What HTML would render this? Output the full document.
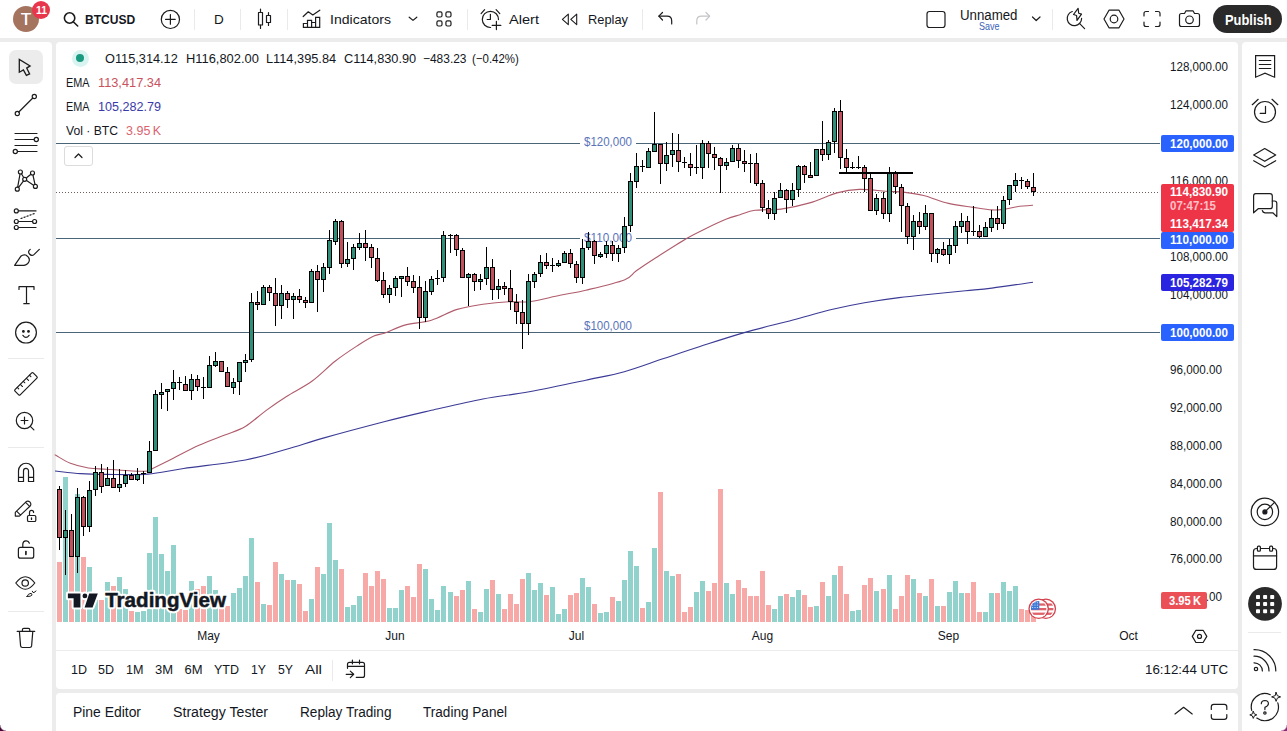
<!DOCTYPE html>
<html><head><meta charset="utf-8"><title>BTCUSD</title>
<style>
html,body{margin:0;padding:0;}
body{width:1287px;height:731px;overflow:hidden;background:#ececec;position:relative;font-family:"Liberation Sans",sans-serif;color:#131722;}
.p{position:absolute;background:#fff;}
.t{position:absolute;white-space:nowrap;}
svg{position:absolute;left:0;top:0;overflow:visible;}
.ic{fill:none;stroke:#1c1c1e;stroke-width:1.2;stroke-linecap:round;stroke-linejoin:round;}
.sep{position:absolute;background:#eaeaea;}
</style></head><body>

<div class="p" style="left:0;top:0;width:1287px;height:38px;"></div>
<div class="p" style="left:0;top:42px;width:52px;height:689px;border-radius:0 4px 0 0;"></div>
<div class="p" style="left:56px;top:42px;width:1182px;height:647px;border-radius:4px;"></div>
<div class="p" style="left:56px;top:693px;width:1182px;height:38px;border-radius:4px 4px 0 0;"></div>
<div class="p" style="left:1242px;top:42px;width:45px;height:689px;border-radius:4px 0 0 0;"></div>
<svg id="chart" width="1287" height="731" viewBox="0 0 1287 731">
<g shape-rendering="crispEdges">
<rect x="57.0" y="562.0" width="5" height="60.0" fill="#f7a9a7"/>
<rect x="63.0" y="477.0" width="5" height="145.0" fill="#92d2cc"/>
<rect x="69.0" y="557.0" width="5" height="65.0" fill="#f7a9a7"/>
<rect x="75.0" y="494.0" width="5" height="128.0" fill="#92d2cc"/>
<rect x="81.0" y="557.0" width="5" height="65.0" fill="#f7a9a7"/>
<rect x="87.0" y="567.0" width="5" height="55.0" fill="#92d2cc"/>
<rect x="93.0" y="600.0" width="5" height="22.0" fill="#92d2cc"/>
<rect x="99.0" y="600.0" width="5" height="22.0" fill="#f7a9a7"/>
<rect x="105.0" y="582.0" width="5" height="40.0" fill="#92d2cc"/>
<rect x="111.0" y="586.3" width="5" height="35.7" fill="#f7a9a7"/>
<rect x="117.0" y="577.2" width="5" height="44.8" fill="#92d2cc"/>
<rect x="123.0" y="589.2" width="5" height="32.8" fill="#92d2cc"/>
<rect x="129.0" y="611.2" width="5" height="10.8" fill="#f7a9a7"/>
<rect x="135.0" y="612.2" width="5" height="9.8" fill="#92d2cc"/>
<rect x="141.0" y="611.2" width="5" height="10.8" fill="#92d2cc"/>
<rect x="147.0" y="553.0" width="5" height="69.0" fill="#92d2cc"/>
<rect x="153.0" y="517.0" width="5" height="105.0" fill="#92d2cc"/>
<rect x="159.0" y="553.9" width="5" height="68.1" fill="#92d2cc"/>
<rect x="165.0" y="571.0" width="5" height="51.0" fill="#92d2cc"/>
<rect x="171.0" y="545.2" width="5" height="76.8" fill="#92d2cc"/>
<rect x="177.0" y="609.3" width="5" height="12.7" fill="#f7a9a7"/>
<rect x="183.0" y="610.2" width="5" height="11.8" fill="#f7a9a7"/>
<rect x="189.0" y="581.3" width="5" height="40.7" fill="#92d2cc"/>
<rect x="195.0" y="589.2" width="5" height="32.8" fill="#f7a9a7"/>
<rect x="201.0" y="586.3" width="5" height="35.7" fill="#f7a9a7"/>
<rect x="207.0" y="576.3" width="5" height="45.7" fill="#92d2cc"/>
<rect x="213.0" y="590.4" width="5" height="31.6" fill="#92d2cc"/>
<rect x="219.0" y="608.0" width="5" height="14.0" fill="#f7a9a7"/>
<rect x="225.0" y="606.2" width="5" height="15.8" fill="#f7a9a7"/>
<rect x="231.0" y="593.2" width="5" height="28.8" fill="#92d2cc"/>
<rect x="237.0" y="588.2" width="5" height="33.8" fill="#92d2cc"/>
<rect x="243.0" y="576.3" width="5" height="45.7" fill="#92d2cc"/>
<rect x="249.0" y="538.1" width="5" height="83.9" fill="#92d2cc"/>
<rect x="255.0" y="582.2" width="5" height="39.8" fill="#f7a9a7"/>
<rect x="261.0" y="604.4" width="5" height="17.6" fill="#92d2cc"/>
<rect x="267.0" y="605.2" width="5" height="16.8" fill="#f7a9a7"/>
<rect x="273.0" y="562.3" width="5" height="59.7" fill="#f7a9a7"/>
<rect x="279.0" y="574.2" width="5" height="47.8" fill="#92d2cc"/>
<rect x="285.0" y="580.3" width="5" height="41.7" fill="#f7a9a7"/>
<rect x="291.0" y="580.3" width="5" height="41.7" fill="#92d2cc"/>
<rect x="297.0" y="584.2" width="5" height="37.8" fill="#f7a9a7"/>
<rect x="303.0" y="611.2" width="5" height="10.8" fill="#f7a9a7"/>
<rect x="309.0" y="599.1" width="5" height="22.9" fill="#92d2cc"/>
<rect x="315.0" y="567.3" width="5" height="54.7" fill="#f7a9a7"/>
<rect x="321.0" y="574.2" width="5" height="47.8" fill="#92d2cc"/>
<rect x="327.0" y="523.0" width="5" height="99.0" fill="#92d2cc"/>
<rect x="333.0" y="560.2" width="5" height="61.8" fill="#92d2cc"/>
<rect x="339.0" y="569.2" width="5" height="52.8" fill="#f7a9a7"/>
<rect x="345.0" y="607.2" width="5" height="14.8" fill="#92d2cc"/>
<rect x="351.0" y="605.2" width="5" height="16.8" fill="#92d2cc"/>
<rect x="357.0" y="596.0" width="5" height="26.0" fill="#92d2cc"/>
<rect x="363.0" y="573.2" width="5" height="48.8" fill="#f7a9a7"/>
<rect x="369.0" y="586.3" width="5" height="35.7" fill="#f7a9a7"/>
<rect x="375.0" y="571.1" width="5" height="50.9" fill="#f7a9a7"/>
<rect x="381.0" y="579.2" width="5" height="42.8" fill="#f7a9a7"/>
<rect x="387.0" y="608.3" width="5" height="13.7" fill="#92d2cc"/>
<rect x="393.0" y="608.3" width="5" height="13.7" fill="#92d2cc"/>
<rect x="399.0" y="590.3" width="5" height="31.7" fill="#92d2cc"/>
<rect x="405.0" y="586.3" width="5" height="35.7" fill="#f7a9a7"/>
<rect x="411.0" y="597.3" width="5" height="24.7" fill="#f7a9a7"/>
<rect x="417.0" y="564.3" width="5" height="57.7" fill="#f7a9a7"/>
<rect x="423.0" y="569.2" width="5" height="52.8" fill="#92d2cc"/>
<rect x="429.0" y="599.1" width="5" height="22.9" fill="#92d2cc"/>
<rect x="435.0" y="610.2" width="5" height="11.8" fill="#92d2cc"/>
<rect x="441.0" y="586.3" width="5" height="35.7" fill="#92d2cc"/>
<rect x="448.0" y="592.3" width="5" height="29.7" fill="#92d2cc"/>
<rect x="454.0" y="596.3" width="5" height="25.7" fill="#f7a9a7"/>
<rect x="460.0" y="590.3" width="5" height="31.7" fill="#f7a9a7"/>
<rect x="466.0" y="581.3" width="5" height="40.7" fill="#92d2cc"/>
<rect x="472.0" y="609.3" width="5" height="12.7" fill="#f7a9a7"/>
<rect x="478.0" y="612.2" width="5" height="9.8" fill="#92d2cc"/>
<rect x="484.0" y="589.2" width="5" height="32.8" fill="#92d2cc"/>
<rect x="490.0" y="580.3" width="5" height="41.7" fill="#f7a9a7"/>
<rect x="496.0" y="594.4" width="5" height="27.6" fill="#92d2cc"/>
<rect x="502.0" y="609.3" width="5" height="12.7" fill="#f7a9a7"/>
<rect x="508.0" y="594.4" width="5" height="27.6" fill="#f7a9a7"/>
<rect x="514.0" y="604.4" width="5" height="17.6" fill="#f7a9a7"/>
<rect x="520.0" y="579.2" width="5" height="42.8" fill="#f7a9a7"/>
<rect x="526.0" y="573.2" width="5" height="48.8" fill="#92d2cc"/>
<rect x="532.0" y="590.3" width="5" height="31.7" fill="#92d2cc"/>
<rect x="538.0" y="583.2" width="5" height="38.8" fill="#92d2cc"/>
<rect x="544.0" y="595.3" width="5" height="26.7" fill="#f7a9a7"/>
<rect x="550.0" y="587.3" width="5" height="34.7" fill="#92d2cc"/>
<rect x="556.0" y="614.3" width="5" height="7.7" fill="#92d2cc"/>
<rect x="562.0" y="609.3" width="5" height="12.7" fill="#92d2cc"/>
<rect x="568.0" y="595.3" width="5" height="26.7" fill="#f7a9a7"/>
<rect x="574.0" y="593.2" width="5" height="28.8" fill="#f7a9a7"/>
<rect x="580.0" y="578.2" width="5" height="43.8" fill="#92d2cc"/>
<rect x="586.0" y="587.3" width="5" height="34.7" fill="#92d2cc"/>
<rect x="592.0" y="604.4" width="5" height="17.6" fill="#f7a9a7"/>
<rect x="598.0" y="613.3" width="5" height="8.7" fill="#92d2cc"/>
<rect x="604.0" y="612.2" width="5" height="9.8" fill="#92d2cc"/>
<rect x="610.0" y="597.3" width="5" height="24.7" fill="#f7a9a7"/>
<rect x="616.0" y="601.2" width="5" height="20.8" fill="#92d2cc"/>
<rect x="622.0" y="580.3" width="5" height="41.7" fill="#92d2cc"/>
<rect x="628.0" y="551.2" width="5" height="70.8" fill="#92d2cc"/>
<rect x="634.0" y="566.1" width="5" height="55.9" fill="#92d2cc"/>
<rect x="640.0" y="608.3" width="5" height="13.7" fill="#f7a9a7"/>
<rect x="646.0" y="602.2" width="5" height="19.8" fill="#92d2cc"/>
<rect x="652.0" y="548.1" width="5" height="73.9" fill="#92d2cc"/>
<rect x="658.0" y="492.0" width="5" height="130.0" fill="#f7a9a7"/>
<rect x="664.0" y="571.1" width="5" height="50.9" fill="#92d2cc"/>
<rect x="670.0" y="576.3" width="5" height="45.7" fill="#92d2cc"/>
<rect x="676.0" y="574.2" width="5" height="47.8" fill="#f7a9a7"/>
<rect x="682.0" y="612.2" width="5" height="9.8" fill="#f7a9a7"/>
<rect x="688.0" y="607.2" width="5" height="14.8" fill="#f7a9a7"/>
<rect x="694.0" y="592.3" width="5" height="29.7" fill="#92d2cc"/>
<rect x="700.0" y="581.3" width="5" height="40.7" fill="#92d2cc"/>
<rect x="706.0" y="591.3" width="5" height="30.7" fill="#f7a9a7"/>
<rect x="712.0" y="583.2" width="5" height="38.8" fill="#f7a9a7"/>
<rect x="718.0" y="489.0" width="5" height="133.0" fill="#f7a9a7"/>
<rect x="724.0" y="583.2" width="5" height="38.8" fill="#92d2cc"/>
<rect x="730.0" y="594.4" width="5" height="27.6" fill="#92d2cc"/>
<rect x="736.0" y="580.3" width="5" height="41.7" fill="#f7a9a7"/>
<rect x="742.0" y="588.2" width="5" height="33.8" fill="#f7a9a7"/>
<rect x="748.0" y="596.3" width="5" height="25.7" fill="#f7a9a7"/>
<rect x="754.0" y="596.3" width="5" height="25.7" fill="#f7a9a7"/>
<rect x="760.0" y="571.1" width="5" height="50.9" fill="#f7a9a7"/>
<rect x="766.0" y="605.2" width="5" height="16.8" fill="#f7a9a7"/>
<rect x="772.0" y="609.3" width="5" height="12.7" fill="#92d2cc"/>
<rect x="778.0" y="596.3" width="5" height="25.7" fill="#92d2cc"/>
<rect x="784.0" y="594.4" width="5" height="27.6" fill="#f7a9a7"/>
<rect x="790.0" y="597.3" width="5" height="24.7" fill="#92d2cc"/>
<rect x="796.0" y="590.3" width="5" height="31.7" fill="#92d2cc"/>
<rect x="802.0" y="595.3" width="5" height="26.7" fill="#f7a9a7"/>
<rect x="808.0" y="607.2" width="5" height="14.8" fill="#f7a9a7"/>
<rect x="814.0" y="606.2" width="5" height="15.8" fill="#92d2cc"/>
<rect x="820.0" y="582.2" width="5" height="39.8" fill="#f7a9a7"/>
<rect x="826.0" y="596.3" width="5" height="25.7" fill="#92d2cc"/>
<rect x="832.0" y="575.1" width="5" height="46.9" fill="#92d2cc"/>
<rect x="838.0" y="566.1" width="5" height="55.9" fill="#f7a9a7"/>
<rect x="844.0" y="594.1" width="5" height="27.9" fill="#f7a9a7"/>
<rect x="850.0" y="611.2" width="5" height="10.8" fill="#92d2cc"/>
<rect x="856.0" y="610.2" width="5" height="11.8" fill="#92d2cc"/>
<rect x="862.0" y="585.1" width="5" height="36.9" fill="#f7a9a7"/>
<rect x="868.0" y="578.2" width="5" height="43.8" fill="#f7a9a7"/>
<rect x="874.0" y="591.3" width="5" height="30.7" fill="#92d2cc"/>
<rect x="881.0" y="589.2" width="5" height="32.8" fill="#f7a9a7"/>
<rect x="887.0" y="575.1" width="5" height="46.9" fill="#92d2cc"/>
<rect x="893.0" y="609.3" width="5" height="12.7" fill="#f7a9a7"/>
<rect x="899.0" y="596.3" width="5" height="25.7" fill="#f7a9a7"/>
<rect x="905.0" y="575.1" width="5" height="46.9" fill="#f7a9a7"/>
<rect x="911.0" y="579.2" width="5" height="42.8" fill="#92d2cc"/>
<rect x="917.0" y="593.2" width="5" height="28.8" fill="#f7a9a7"/>
<rect x="923.0" y="596.3" width="5" height="25.7" fill="#92d2cc"/>
<rect x="929.0" y="579.2" width="5" height="42.8" fill="#f7a9a7"/>
<rect x="935.0" y="606.2" width="5" height="15.8" fill="#92d2cc"/>
<rect x="941.0" y="606.2" width="5" height="15.8" fill="#f7a9a7"/>
<rect x="947.0" y="592.3" width="5" height="29.7" fill="#92d2cc"/>
<rect x="953.0" y="581.3" width="5" height="40.7" fill="#92d2cc"/>
<rect x="959.0" y="593.2" width="5" height="28.8" fill="#92d2cc"/>
<rect x="965.0" y="593.2" width="5" height="28.8" fill="#f7a9a7"/>
<rect x="971.0" y="582.1" width="5" height="39.9" fill="#f7a9a7"/>
<rect x="977.0" y="612.0" width="5" height="10.0" fill="#f7a9a7"/>
<rect x="983.0" y="612.0" width="5" height="10.0" fill="#92d2cc"/>
<rect x="989.0" y="593.2" width="5" height="28.8" fill="#92d2cc"/>
<rect x="995.0" y="593.2" width="5" height="28.8" fill="#f7a9a7"/>
<rect x="1001.0" y="582.1" width="5" height="39.9" fill="#92d2cc"/>
<rect x="1007.0" y="591.1" width="5" height="30.9" fill="#92d2cc"/>
<rect x="1013.0" y="586.1" width="5" height="35.9" fill="#92d2cc"/>
<rect x="1019.0" y="609.1" width="5" height="12.9" fill="#f7a9a7"/>
<rect x="1025.0" y="610.1" width="5" height="11.9" fill="#f7a9a7"/>
<rect x="1031.0" y="613.4" width="5" height="8.6" fill="#f7a9a7"/>
</g>
<g stroke="#4a6478" stroke-width="1" shape-rendering="crispEdges">
<line x1="56" y1="143.5" x2="580" y2="143.5"/><line x1="636" y1="143.5" x2="1160" y2="143.5"/>
<line x1="56" y1="238.5" x2="580" y2="238.5"/><line x1="636" y1="238.5" x2="1160" y2="238.5"/>
<line x1="56" y1="332.5" x2="1160" y2="332.5"/>
</g>
<line x1="56" y1="192.5" x2="1160" y2="192.5" stroke="#6e5e5e" stroke-width="1" stroke-dasharray="1 2" shape-rendering="crispEdges"/>
<path d="M55.0,471.0 C59.3,471.4 72.1,473.0 80.7,473.6 C89.3,474.2 95.2,474.3 106.4,474.4 C117.6,474.5 134.7,475.1 147.6,474.1 C160.5,473.1 167.3,470.9 183.6,468.5 C199.9,466.1 228.2,463.2 245.3,460.0 C262.4,456.8 273.2,452.9 286.5,449.2 C299.8,445.5 308.6,442.2 325.0,437.6 C341.4,433.0 367.3,426.1 385.0,421.5 C402.7,416.9 415.1,414.1 431.4,410.3 C447.7,406.6 466.6,402.1 482.9,399.0 C499.2,395.9 512.1,394.9 529.2,391.8 C546.4,388.7 569.9,383.6 585.8,380.2 C601.6,376.8 611.4,375.3 624.3,371.7 C637.1,368.1 650.3,363.0 662.9,358.8 C675.5,354.6 686.3,350.9 700.0,346.5 C713.7,342.1 729.6,336.8 745.1,332.4 C760.6,328.0 778.3,323.9 792.9,320.0 C807.5,316.1 820.8,312.2 832.7,309.3 C844.6,306.4 853.5,304.6 864.5,302.7 C875.5,300.8 888.8,298.9 899.0,297.6 C909.2,296.3 914.5,295.8 925.6,294.7 C936.7,293.6 954.4,291.9 965.4,290.8 C976.4,289.7 980.6,289.5 991.9,288.1 C1003.2,286.7 1026.2,283.2 1033.0,282.2" fill="none" stroke="#3b3a96" stroke-width="1.1" stroke-linejoin="round"/>
<path d="M55.0,455.0 C55.2,455.1 53.7,454.2 56.3,455.6 C58.9,457.0 65.1,461.2 70.4,463.3 C75.8,465.4 82.4,467.0 88.4,468.0 C94.4,469.0 99.1,468.7 106.4,469.2 C113.7,469.7 125.3,470.7 132.2,471.0 C139.1,471.3 144.2,471.4 147.6,471.0 C151.0,470.6 148.4,470.6 152.7,468.5 C157.0,466.4 165.6,462.1 173.3,458.2 C181.0,454.3 190.4,449.2 199.0,445.3 C207.6,441.4 217.1,438.1 224.8,435.0 C232.5,431.9 238.5,430.6 245.3,426.5 C252.2,422.4 259.0,415.6 265.9,410.6 C272.8,405.6 278.8,401.4 286.5,396.5 C294.2,391.6 304.1,386.9 312.2,381.0 C320.3,375.1 327.7,367.0 335.4,361.0 C343.1,355.0 352.1,349.2 358.5,345.0 C364.9,340.8 369.5,338.0 373.9,336.0 C378.3,334.0 379.7,334.8 385.0,332.9 C390.3,331.0 398.0,327.0 405.7,324.9 C413.4,322.8 422.8,322.8 431.4,320.2 C440.0,317.6 448.6,312.0 457.2,309.4 C465.8,306.8 474.3,305.6 482.9,304.3 C491.5,303.0 500.9,302.1 508.6,301.7 C516.3,301.3 520.6,302.8 529.2,301.7 C537.8,300.6 550.6,297.2 560.0,295.3 C569.4,293.4 575.1,292.8 585.8,290.2 C596.5,287.6 615.9,283.1 624.3,279.9 C632.7,276.7 630.9,274.6 636.0,271.0 C641.1,267.4 646.2,263.9 654.7,258.5 C663.2,253.1 678.7,243.2 687.0,238.3 C695.3,233.4 697.9,232.4 704.5,229.2 C711.1,226.0 720.6,221.5 726.5,219.1 C732.4,216.7 735.2,216.2 740.0,214.7 C744.8,213.2 748.2,211.2 755.0,210.3 C761.8,209.4 771.9,210.3 781.0,209.1 C790.1,207.9 800.4,205.6 809.7,202.9 C819.0,200.2 828.8,195.2 837.0,192.9 C845.2,190.7 851.1,189.7 859.2,189.4 C867.3,189.1 878.2,190.7 885.8,191.2 C893.4,191.7 898.7,191.7 905.0,192.4 C911.3,193.1 916.4,193.7 923.6,195.5 C930.9,197.3 940.2,201.4 948.5,203.4 C956.8,205.4 966.1,206.3 973.4,207.4 C980.6,208.5 986.8,209.6 992.0,209.9 C997.2,210.2 1000.3,209.7 1004.5,209.2 C1008.7,208.7 1012.2,207.4 1017.0,206.7 C1021.8,206.0 1030.3,205.4 1033.0,205.2" fill="none" stroke="#b05c6c" stroke-width="1.1" stroke-linejoin="round"/>
<g font-family="Liberation Sans, sans-serif" font-size="12" fill="#5a74b8">
<text x="584" y="146.4" textLength="48" lengthAdjust="spacingAndGlyphs">$120,000</text>
<text x="584" y="241.8" textLength="48" lengthAdjust="spacingAndGlyphs">$110,000</text>
<text x="584" y="330" textLength="48" lengthAdjust="spacingAndGlyphs">$100,000</text>
</g>
<g shape-rendering="crispEdges">
<rect x="59" y="486" width="1" height="64" fill="#000"/>
<rect x="57" y="489" width="5" height="49" fill="#000"/>
<rect x="58" y="490" width="3" height="47" fill="#bf505c"/>
<rect x="65" y="510" width="1" height="65" fill="#000"/>
<rect x="63" y="530" width="5" height="8" fill="#000"/>
<rect x="64" y="531" width="3" height="6" fill="#2f8e78"/>
<rect x="71" y="514" width="1" height="43" fill="#000"/>
<rect x="69" y="530" width="5" height="27" fill="#000"/>
<rect x="70" y="531" width="3" height="25" fill="#bf505c"/>
<rect x="77" y="488" width="1" height="85" fill="#000"/>
<rect x="75" y="497" width="5" height="60" fill="#000"/>
<rect x="76" y="498" width="3" height="58" fill="#2f8e78"/>
<rect x="83" y="496" width="1" height="40" fill="#000"/>
<rect x="81" y="497" width="5" height="30" fill="#000"/>
<rect x="82" y="498" width="3" height="28" fill="#bf505c"/>
<rect x="89" y="481" width="1" height="51" fill="#000"/>
<rect x="87" y="490" width="5" height="37" fill="#000"/>
<rect x="88" y="491" width="3" height="35" fill="#2f8e78"/>
<rect x="95" y="466" width="1" height="30" fill="#000"/>
<rect x="93" y="472" width="5" height="18" fill="#000"/>
<rect x="94" y="473" width="3" height="16" fill="#2f8e78"/>
<rect x="101" y="464" width="1" height="29" fill="#000"/>
<rect x="99" y="472" width="5" height="15" fill="#000"/>
<rect x="100" y="473" width="3" height="13" fill="#bf505c"/>
<rect x="107" y="467" width="1" height="19" fill="#000"/>
<rect x="105" y="478" width="5" height="8" fill="#000"/>
<rect x="106" y="479" width="3" height="6" fill="#2f8e78"/>
<rect x="113" y="460" width="1" height="28" fill="#000"/>
<rect x="111" y="478" width="5" height="10" fill="#000"/>
<rect x="112" y="479" width="3" height="8" fill="#bf505c"/>
<rect x="119" y="469" width="1" height="23" fill="#000"/>
<rect x="117" y="484" width="5" height="4" fill="#000"/>
<rect x="118" y="485" width="3" height="2" fill="#2f8e78"/>
<rect x="125" y="470" width="1" height="17" fill="#000"/>
<rect x="123" y="475" width="5" height="9" fill="#000"/>
<rect x="124" y="476" width="3" height="7" fill="#2f8e78"/>
<rect x="131" y="473" width="1" height="7" fill="#000"/>
<rect x="129" y="475" width="5" height="5" fill="#000"/>
<rect x="130" y="476" width="3" height="3" fill="#bf505c"/>
<rect x="137" y="468" width="1" height="13" fill="#000"/>
<rect x="135" y="474" width="5" height="6" fill="#000"/>
<rect x="136" y="475" width="3" height="4" fill="#2f8e78"/>
<rect x="143" y="471" width="1" height="13" fill="#000"/>
<rect x="141" y="473" width="5" height="1" fill="#000"/>
<rect x="149" y="441" width="1" height="32" fill="#000"/>
<rect x="147" y="451" width="5" height="22" fill="#000"/>
<rect x="148" y="452" width="3" height="20" fill="#2f8e78"/>
<rect x="155" y="390" width="1" height="61" fill="#000"/>
<rect x="153" y="394" width="5" height="57" fill="#000"/>
<rect x="154" y="395" width="3" height="55" fill="#2f8e78"/>
<rect x="161" y="383" width="1" height="26" fill="#000"/>
<rect x="159" y="392" width="5" height="3" fill="#000"/>
<rect x="160" y="393" width="3" height="1" fill="#2f8e78"/>
<rect x="167" y="389" width="1" height="22" fill="#000"/>
<rect x="165" y="389" width="5" height="3" fill="#000"/>
<rect x="166" y="390" width="3" height="1" fill="#2f8e78"/>
<rect x="173" y="370" width="1" height="30" fill="#000"/>
<rect x="171" y="382" width="5" height="7" fill="#000"/>
<rect x="172" y="383" width="3" height="5" fill="#2f8e78"/>
<rect x="179" y="377" width="1" height="13" fill="#000"/>
<rect x="177" y="382" width="5" height="1" fill="#000"/>
<rect x="185" y="376" width="1" height="15" fill="#000"/>
<rect x="183" y="384" width="5" height="7" fill="#000"/>
<rect x="184" y="385" width="3" height="5" fill="#bf505c"/>
<rect x="191" y="374" width="1" height="26" fill="#000"/>
<rect x="189" y="379" width="5" height="12" fill="#000"/>
<rect x="190" y="380" width="3" height="10" fill="#2f8e78"/>
<rect x="197" y="375" width="1" height="16" fill="#000"/>
<rect x="195" y="379" width="5" height="8" fill="#000"/>
<rect x="196" y="380" width="3" height="6" fill="#bf505c"/>
<rect x="203" y="377" width="1" height="22" fill="#000"/>
<rect x="201" y="387" width="5" height="1" fill="#000"/>
<rect x="209" y="356" width="1" height="32" fill="#000"/>
<rect x="207" y="365" width="5" height="23" fill="#000"/>
<rect x="208" y="366" width="3" height="21" fill="#2f8e78"/>
<rect x="215" y="352" width="1" height="15" fill="#000"/>
<rect x="213" y="361" width="5" height="5" fill="#000"/>
<rect x="214" y="362" width="3" height="3" fill="#2f8e78"/>
<rect x="221" y="361" width="1" height="11" fill="#000"/>
<rect x="219" y="361" width="5" height="11" fill="#000"/>
<rect x="220" y="362" width="3" height="9" fill="#bf505c"/>
<rect x="227" y="367" width="1" height="20" fill="#000"/>
<rect x="225" y="372" width="5" height="15" fill="#000"/>
<rect x="226" y="373" width="3" height="13" fill="#bf505c"/>
<rect x="233" y="378" width="1" height="16" fill="#000"/>
<rect x="231" y="382" width="5" height="6" fill="#000"/>
<rect x="232" y="383" width="3" height="4" fill="#2f8e78"/>
<rect x="239" y="362" width="1" height="33" fill="#000"/>
<rect x="237" y="362" width="5" height="20" fill="#000"/>
<rect x="238" y="363" width="3" height="18" fill="#2f8e78"/>
<rect x="245" y="354" width="1" height="18" fill="#000"/>
<rect x="243" y="360" width="5" height="3" fill="#000"/>
<rect x="244" y="361" width="3" height="1" fill="#2f8e78"/>
<rect x="251" y="293" width="1" height="69" fill="#000"/>
<rect x="249" y="302" width="5" height="58" fill="#000"/>
<rect x="250" y="303" width="3" height="56" fill="#2f8e78"/>
<rect x="257" y="291" width="1" height="19" fill="#000"/>
<rect x="255" y="302" width="5" height="3" fill="#000"/>
<rect x="256" y="303" width="3" height="1" fill="#bf505c"/>
<rect x="263" y="285" width="1" height="20" fill="#000"/>
<rect x="261" y="287" width="5" height="18" fill="#000"/>
<rect x="262" y="288" width="3" height="16" fill="#2f8e78"/>
<rect x="269" y="285" width="1" height="16" fill="#000"/>
<rect x="267" y="287" width="5" height="6" fill="#000"/>
<rect x="268" y="288" width="3" height="4" fill="#bf505c"/>
<rect x="275" y="278" width="1" height="48" fill="#000"/>
<rect x="273" y="293" width="5" height="13" fill="#000"/>
<rect x="274" y="294" width="3" height="11" fill="#bf505c"/>
<rect x="281" y="285" width="1" height="34" fill="#000"/>
<rect x="279" y="293" width="5" height="13" fill="#000"/>
<rect x="280" y="294" width="3" height="11" fill="#2f8e78"/>
<rect x="287" y="291" width="1" height="17" fill="#000"/>
<rect x="285" y="293" width="5" height="7" fill="#000"/>
<rect x="286" y="294" width="3" height="5" fill="#bf505c"/>
<rect x="293" y="293" width="1" height="26" fill="#000"/>
<rect x="291" y="296" width="5" height="4" fill="#000"/>
<rect x="292" y="297" width="3" height="2" fill="#2f8e78"/>
<rect x="299" y="289" width="1" height="14" fill="#000"/>
<rect x="297" y="296" width="5" height="4" fill="#000"/>
<rect x="298" y="297" width="3" height="2" fill="#bf505c"/>
<rect x="305" y="297" width="1" height="11" fill="#000"/>
<rect x="303" y="300" width="5" height="3" fill="#000"/>
<rect x="304" y="301" width="3" height="1" fill="#bf505c"/>
<rect x="311" y="269" width="1" height="34" fill="#000"/>
<rect x="309" y="271" width="5" height="32" fill="#000"/>
<rect x="310" y="272" width="3" height="30" fill="#2f8e78"/>
<rect x="317" y="265" width="1" height="47" fill="#000"/>
<rect x="315" y="271" width="5" height="9" fill="#000"/>
<rect x="316" y="272" width="3" height="7" fill="#bf505c"/>
<rect x="323" y="263" width="1" height="29" fill="#000"/>
<rect x="321" y="267" width="5" height="13" fill="#000"/>
<rect x="322" y="268" width="3" height="11" fill="#2f8e78"/>
<rect x="329" y="230" width="1" height="44" fill="#000"/>
<rect x="327" y="240" width="5" height="28" fill="#000"/>
<rect x="328" y="241" width="3" height="26" fill="#2f8e78"/>
<rect x="335" y="219" width="1" height="26" fill="#000"/>
<rect x="333" y="221" width="5" height="21" fill="#000"/>
<rect x="334" y="222" width="3" height="19" fill="#2f8e78"/>
<rect x="341" y="220" width="1" height="48" fill="#000"/>
<rect x="339" y="221" width="5" height="43" fill="#000"/>
<rect x="340" y="222" width="3" height="41" fill="#bf505c"/>
<rect x="347" y="242" width="1" height="25" fill="#000"/>
<rect x="345" y="259" width="5" height="5" fill="#000"/>
<rect x="346" y="260" width="3" height="3" fill="#2f8e78"/>
<rect x="353" y="244" width="1" height="26" fill="#000"/>
<rect x="351" y="247" width="5" height="12" fill="#000"/>
<rect x="352" y="248" width="3" height="10" fill="#2f8e78"/>
<rect x="359" y="233" width="1" height="17" fill="#000"/>
<rect x="357" y="243" width="5" height="5" fill="#000"/>
<rect x="358" y="244" width="3" height="3" fill="#2f8e78"/>
<rect x="365" y="230" width="1" height="31" fill="#000"/>
<rect x="363" y="243" width="5" height="5" fill="#000"/>
<rect x="364" y="244" width="3" height="3" fill="#bf505c"/>
<rect x="371" y="244" width="1" height="24" fill="#000"/>
<rect x="369" y="247" width="5" height="11" fill="#000"/>
<rect x="370" y="248" width="3" height="9" fill="#bf505c"/>
<rect x="377" y="248" width="1" height="34" fill="#000"/>
<rect x="375" y="258" width="5" height="23" fill="#000"/>
<rect x="376" y="259" width="3" height="21" fill="#bf505c"/>
<rect x="383" y="272" width="1" height="26" fill="#000"/>
<rect x="381" y="280" width="5" height="15" fill="#000"/>
<rect x="382" y="281" width="3" height="13" fill="#bf505c"/>
<rect x="389" y="285" width="1" height="18" fill="#000"/>
<rect x="387" y="288" width="5" height="7" fill="#000"/>
<rect x="388" y="289" width="3" height="5" fill="#2f8e78"/>
<rect x="395" y="276" width="1" height="20" fill="#000"/>
<rect x="393" y="278" width="5" height="10" fill="#000"/>
<rect x="394" y="279" width="3" height="8" fill="#2f8e78"/>
<rect x="401" y="276" width="1" height="21" fill="#000"/>
<rect x="399" y="276" width="5" height="3" fill="#000"/>
<rect x="400" y="277" width="3" height="1" fill="#2f8e78"/>
<rect x="407" y="267" width="1" height="19" fill="#000"/>
<rect x="405" y="276" width="5" height="6" fill="#000"/>
<rect x="406" y="277" width="3" height="4" fill="#bf505c"/>
<rect x="413" y="275" width="1" height="18" fill="#000"/>
<rect x="411" y="281" width="5" height="7" fill="#000"/>
<rect x="412" y="282" width="3" height="5" fill="#bf505c"/>
<rect x="419" y="276" width="1" height="53" fill="#000"/>
<rect x="417" y="287" width="5" height="31" fill="#000"/>
<rect x="418" y="288" width="3" height="29" fill="#bf505c"/>
<rect x="425" y="281" width="1" height="41" fill="#000"/>
<rect x="423" y="291" width="5" height="27" fill="#000"/>
<rect x="424" y="292" width="3" height="25" fill="#2f8e78"/>
<rect x="431" y="276" width="1" height="19" fill="#000"/>
<rect x="429" y="279" width="5" height="13" fill="#000"/>
<rect x="430" y="280" width="3" height="11" fill="#2f8e78"/>
<rect x="437" y="270" width="1" height="15" fill="#000"/>
<rect x="435" y="278" width="5" height="1" fill="#000"/>
<rect x="443" y="231" width="1" height="51" fill="#000"/>
<rect x="441" y="235" width="5" height="43" fill="#000"/>
<rect x="442" y="236" width="3" height="41" fill="#2f8e78"/>
<rect x="450" y="234" width="1" height="19" fill="#000"/>
<rect x="448" y="235" width="5" height="1" fill="#000"/>
<rect x="456" y="234" width="1" height="22" fill="#000"/>
<rect x="454" y="235" width="5" height="15" fill="#000"/>
<rect x="455" y="236" width="3" height="13" fill="#bf505c"/>
<rect x="462" y="248" width="1" height="30" fill="#000"/>
<rect x="460" y="250" width="5" height="28" fill="#000"/>
<rect x="461" y="251" width="3" height="26" fill="#bf505c"/>
<rect x="468" y="273" width="1" height="33" fill="#000"/>
<rect x="466" y="274" width="5" height="4" fill="#000"/>
<rect x="467" y="275" width="3" height="2" fill="#2f8e78"/>
<rect x="474" y="273" width="1" height="18" fill="#000"/>
<rect x="472" y="274" width="5" height="8" fill="#000"/>
<rect x="473" y="275" width="3" height="6" fill="#bf505c"/>
<rect x="480" y="274" width="1" height="16" fill="#000"/>
<rect x="478" y="279" width="5" height="3" fill="#000"/>
<rect x="479" y="280" width="3" height="1" fill="#2f8e78"/>
<rect x="486" y="247" width="1" height="38" fill="#000"/>
<rect x="484" y="267" width="5" height="12" fill="#000"/>
<rect x="485" y="268" width="3" height="10" fill="#2f8e78"/>
<rect x="492" y="259" width="1" height="41" fill="#000"/>
<rect x="490" y="267" width="5" height="23" fill="#000"/>
<rect x="491" y="268" width="3" height="21" fill="#bf505c"/>
<rect x="498" y="279" width="1" height="20" fill="#000"/>
<rect x="496" y="286" width="5" height="4" fill="#000"/>
<rect x="497" y="287" width="3" height="2" fill="#2f8e78"/>
<rect x="504" y="282" width="1" height="13" fill="#000"/>
<rect x="502" y="286" width="5" height="3" fill="#000"/>
<rect x="503" y="287" width="3" height="1" fill="#bf505c"/>
<rect x="510" y="270" width="1" height="40" fill="#000"/>
<rect x="508" y="288" width="5" height="14" fill="#000"/>
<rect x="509" y="289" width="3" height="12" fill="#bf505c"/>
<rect x="516" y="294" width="1" height="30" fill="#000"/>
<rect x="514" y="302" width="5" height="10" fill="#000"/>
<rect x="515" y="303" width="3" height="8" fill="#bf505c"/>
<rect x="522" y="300" width="1" height="49" fill="#000"/>
<rect x="520" y="312" width="5" height="12" fill="#000"/>
<rect x="521" y="313" width="3" height="10" fill="#bf505c"/>
<rect x="528" y="274" width="1" height="61" fill="#000"/>
<rect x="526" y="281" width="5" height="43" fill="#000"/>
<rect x="527" y="282" width="3" height="41" fill="#2f8e78"/>
<rect x="534" y="272" width="1" height="16" fill="#000"/>
<rect x="532" y="274" width="5" height="8" fill="#000"/>
<rect x="533" y="275" width="3" height="6" fill="#2f8e78"/>
<rect x="540" y="255" width="1" height="22" fill="#000"/>
<rect x="538" y="262" width="5" height="12" fill="#000"/>
<rect x="539" y="263" width="3" height="10" fill="#2f8e78"/>
<rect x="546" y="253" width="1" height="16" fill="#000"/>
<rect x="544" y="262" width="5" height="4" fill="#000"/>
<rect x="545" y="263" width="3" height="2" fill="#bf505c"/>
<rect x="552" y="258" width="1" height="14" fill="#000"/>
<rect x="550" y="265" width="5" height="1" fill="#000"/>
<rect x="558" y="260" width="1" height="7" fill="#000"/>
<rect x="556" y="263" width="5" height="3" fill="#000"/>
<rect x="557" y="264" width="3" height="1" fill="#2f8e78"/>
<rect x="564" y="251" width="1" height="12" fill="#000"/>
<rect x="562" y="253" width="5" height="10" fill="#000"/>
<rect x="563" y="254" width="3" height="8" fill="#2f8e78"/>
<rect x="570" y="249" width="1" height="19" fill="#000"/>
<rect x="568" y="253" width="5" height="11" fill="#000"/>
<rect x="569" y="254" width="3" height="9" fill="#bf505c"/>
<rect x="576" y="261" width="1" height="22" fill="#000"/>
<rect x="574" y="264" width="5" height="14" fill="#000"/>
<rect x="575" y="265" width="3" height="12" fill="#bf505c"/>
<rect x="582" y="239" width="1" height="45" fill="#000"/>
<rect x="580" y="248" width="5" height="30" fill="#000"/>
<rect x="581" y="249" width="3" height="28" fill="#2f8e78"/>
<rect x="588" y="232" width="1" height="18" fill="#000"/>
<rect x="586" y="241" width="5" height="7" fill="#000"/>
<rect x="587" y="242" width="3" height="5" fill="#2f8e78"/>
<rect x="594" y="240" width="1" height="24" fill="#000"/>
<rect x="592" y="241" width="5" height="15" fill="#000"/>
<rect x="593" y="242" width="3" height="13" fill="#bf505c"/>
<rect x="600" y="252" width="1" height="6" fill="#000"/>
<rect x="598" y="254" width="5" height="3" fill="#000"/>
<rect x="599" y="255" width="3" height="1" fill="#2f8e78"/>
<rect x="606" y="241" width="1" height="17" fill="#000"/>
<rect x="604" y="245" width="5" height="9" fill="#000"/>
<rect x="605" y="246" width="3" height="7" fill="#2f8e78"/>
<rect x="612" y="241" width="1" height="20" fill="#000"/>
<rect x="610" y="245" width="5" height="9" fill="#000"/>
<rect x="611" y="246" width="3" height="7" fill="#bf505c"/>
<rect x="618" y="245" width="1" height="17" fill="#000"/>
<rect x="616" y="248" width="5" height="6" fill="#000"/>
<rect x="617" y="249" width="3" height="4" fill="#2f8e78"/>
<rect x="624" y="217" width="1" height="36" fill="#000"/>
<rect x="622" y="226" width="5" height="22" fill="#000"/>
<rect x="623" y="227" width="3" height="20" fill="#2f8e78"/>
<rect x="630" y="173" width="1" height="59" fill="#000"/>
<rect x="628" y="181" width="5" height="45" fill="#000"/>
<rect x="629" y="182" width="3" height="43" fill="#2f8e78"/>
<rect x="636" y="153" width="1" height="35" fill="#000"/>
<rect x="634" y="166" width="5" height="16" fill="#000"/>
<rect x="635" y="167" width="3" height="14" fill="#2f8e78"/>
<rect x="642" y="160" width="1" height="12" fill="#000"/>
<rect x="640" y="166" width="5" height="1" fill="#000"/>
<rect x="648" y="148" width="1" height="20" fill="#000"/>
<rect x="646" y="151" width="5" height="17" fill="#000"/>
<rect x="647" y="152" width="3" height="15" fill="#2f8e78"/>
<rect x="654" y="112" width="1" height="40" fill="#000"/>
<rect x="652" y="144" width="5" height="8" fill="#000"/>
<rect x="653" y="145" width="3" height="6" fill="#2f8e78"/>
<rect x="660" y="144" width="1" height="40" fill="#000"/>
<rect x="658" y="144" width="5" height="20" fill="#000"/>
<rect x="659" y="145" width="3" height="18" fill="#bf505c"/>
<rect x="666" y="142" width="1" height="29" fill="#000"/>
<rect x="664" y="155" width="5" height="9" fill="#000"/>
<rect x="665" y="156" width="3" height="7" fill="#2f8e78"/>
<rect x="672" y="133" width="1" height="34" fill="#000"/>
<rect x="670" y="150" width="5" height="5" fill="#000"/>
<rect x="671" y="151" width="3" height="3" fill="#2f8e78"/>
<rect x="678" y="134" width="1" height="38" fill="#000"/>
<rect x="676" y="150" width="5" height="12" fill="#000"/>
<rect x="677" y="151" width="3" height="10" fill="#bf505c"/>
<rect x="684" y="157" width="1" height="11" fill="#000"/>
<rect x="682" y="162" width="5" height="1" fill="#000"/>
<rect x="690" y="153" width="1" height="23" fill="#000"/>
<rect x="688" y="164" width="5" height="4" fill="#000"/>
<rect x="689" y="165" width="3" height="2" fill="#bf505c"/>
<rect x="696" y="145" width="1" height="29" fill="#000"/>
<rect x="694" y="167" width="5" height="1" fill="#000"/>
<rect x="702" y="140" width="1" height="39" fill="#000"/>
<rect x="700" y="143" width="5" height="25" fill="#000"/>
<rect x="701" y="144" width="3" height="23" fill="#2f8e78"/>
<rect x="708" y="141" width="1" height="27" fill="#000"/>
<rect x="706" y="143" width="5" height="11" fill="#000"/>
<rect x="707" y="144" width="3" height="9" fill="#bf505c"/>
<rect x="714" y="147" width="1" height="23" fill="#000"/>
<rect x="712" y="154" width="5" height="4" fill="#000"/>
<rect x="713" y="155" width="3" height="2" fill="#bf505c"/>
<rect x="720" y="157" width="1" height="36" fill="#000"/>
<rect x="718" y="158" width="5" height="8" fill="#000"/>
<rect x="719" y="159" width="3" height="6" fill="#bf505c"/>
<rect x="726" y="158" width="1" height="12" fill="#000"/>
<rect x="724" y="162" width="5" height="4" fill="#000"/>
<rect x="725" y="163" width="3" height="2" fill="#2f8e78"/>
<rect x="732" y="145" width="1" height="17" fill="#000"/>
<rect x="730" y="148" width="5" height="14" fill="#000"/>
<rect x="731" y="149" width="3" height="12" fill="#2f8e78"/>
<rect x="738" y="144" width="1" height="24" fill="#000"/>
<rect x="736" y="148" width="5" height="13" fill="#000"/>
<rect x="737" y="149" width="3" height="11" fill="#bf505c"/>
<rect x="744" y="150" width="1" height="22" fill="#000"/>
<rect x="742" y="161" width="5" height="3" fill="#000"/>
<rect x="743" y="162" width="3" height="1" fill="#bf505c"/>
<rect x="750" y="154" width="1" height="29" fill="#000"/>
<rect x="748" y="163" width="5" height="1" fill="#000"/>
<rect x="756" y="153" width="1" height="33" fill="#000"/>
<rect x="754" y="163" width="5" height="21" fill="#000"/>
<rect x="755" y="164" width="3" height="19" fill="#bf505c"/>
<rect x="762" y="180" width="1" height="32" fill="#000"/>
<rect x="760" y="183" width="5" height="25" fill="#000"/>
<rect x="761" y="184" width="3" height="23" fill="#bf505c"/>
<rect x="768" y="200" width="1" height="19" fill="#000"/>
<rect x="766" y="208" width="5" height="6" fill="#000"/>
<rect x="767" y="209" width="3" height="4" fill="#bf505c"/>
<rect x="774" y="192" width="1" height="28" fill="#000"/>
<rect x="772" y="198" width="5" height="16" fill="#000"/>
<rect x="773" y="199" width="3" height="14" fill="#2f8e78"/>
<rect x="780" y="183" width="1" height="15" fill="#000"/>
<rect x="778" y="190" width="5" height="8" fill="#000"/>
<rect x="779" y="191" width="3" height="6" fill="#2f8e78"/>
<rect x="786" y="189" width="1" height="24" fill="#000"/>
<rect x="784" y="190" width="5" height="10" fill="#000"/>
<rect x="785" y="191" width="3" height="8" fill="#bf505c"/>
<rect x="792" y="183" width="1" height="23" fill="#000"/>
<rect x="790" y="190" width="5" height="10" fill="#000"/>
<rect x="791" y="191" width="3" height="8" fill="#2f8e78"/>
<rect x="798" y="165" width="1" height="32" fill="#000"/>
<rect x="796" y="166" width="5" height="24" fill="#000"/>
<rect x="797" y="167" width="3" height="22" fill="#2f8e78"/>
<rect x="804" y="165" width="1" height="18" fill="#000"/>
<rect x="802" y="166" width="5" height="9" fill="#000"/>
<rect x="803" y="167" width="3" height="7" fill="#bf505c"/>
<rect x="810" y="162" width="1" height="16" fill="#000"/>
<rect x="808" y="175" width="5" height="3" fill="#000"/>
<rect x="809" y="176" width="3" height="1" fill="#bf505c"/>
<rect x="816" y="149" width="1" height="27" fill="#000"/>
<rect x="814" y="149" width="5" height="27" fill="#000"/>
<rect x="815" y="150" width="3" height="25" fill="#2f8e78"/>
<rect x="822" y="121" width="1" height="40" fill="#000"/>
<rect x="820" y="149" width="5" height="6" fill="#000"/>
<rect x="821" y="150" width="3" height="4" fill="#bf505c"/>
<rect x="828" y="140" width="1" height="20" fill="#000"/>
<rect x="826" y="142" width="5" height="13" fill="#000"/>
<rect x="827" y="143" width="3" height="11" fill="#2f8e78"/>
<rect x="834" y="108" width="1" height="45" fill="#000"/>
<rect x="832" y="111" width="5" height="31" fill="#000"/>
<rect x="833" y="112" width="3" height="29" fill="#2f8e78"/>
<rect x="840" y="100" width="1" height="69" fill="#000"/>
<rect x="838" y="111" width="5" height="47" fill="#000"/>
<rect x="839" y="112" width="3" height="45" fill="#bf505c"/>
<rect x="846" y="149" width="1" height="23" fill="#000"/>
<rect x="844" y="158" width="5" height="10" fill="#000"/>
<rect x="845" y="159" width="3" height="8" fill="#bf505c"/>
<rect x="852" y="162" width="1" height="7" fill="#000"/>
<rect x="850" y="167" width="5" height="1" fill="#000"/>
<rect x="858" y="156" width="1" height="13" fill="#000"/>
<rect x="856" y="167" width="5" height="1" fill="#000"/>
<rect x="864" y="165" width="1" height="27" fill="#000"/>
<rect x="862" y="167" width="5" height="12" fill="#000"/>
<rect x="863" y="168" width="3" height="10" fill="#bf505c"/>
<rect x="870" y="174" width="1" height="37" fill="#000"/>
<rect x="868" y="178" width="5" height="33" fill="#000"/>
<rect x="869" y="179" width="3" height="31" fill="#bf505c"/>
<rect x="876" y="194" width="1" height="21" fill="#000"/>
<rect x="874" y="198" width="5" height="13" fill="#000"/>
<rect x="875" y="199" width="3" height="11" fill="#2f8e78"/>
<rect x="883" y="192" width="1" height="27" fill="#000"/>
<rect x="881" y="198" width="5" height="16" fill="#000"/>
<rect x="882" y="199" width="3" height="14" fill="#bf505c"/>
<rect x="889" y="167" width="1" height="55" fill="#000"/>
<rect x="887" y="173" width="5" height="41" fill="#000"/>
<rect x="888" y="174" width="3" height="39" fill="#2f8e78"/>
<rect x="895" y="171" width="1" height="23" fill="#000"/>
<rect x="893" y="173" width="5" height="14" fill="#000"/>
<rect x="894" y="174" width="3" height="12" fill="#bf505c"/>
<rect x="901" y="184" width="1" height="48" fill="#000"/>
<rect x="899" y="187" width="5" height="19" fill="#000"/>
<rect x="900" y="188" width="3" height="17" fill="#bf505c"/>
<rect x="907" y="203" width="1" height="41" fill="#000"/>
<rect x="905" y="206" width="5" height="31" fill="#000"/>
<rect x="906" y="207" width="3" height="29" fill="#bf505c"/>
<rect x="913" y="215" width="1" height="35" fill="#000"/>
<rect x="911" y="221" width="5" height="16" fill="#000"/>
<rect x="912" y="222" width="3" height="14" fill="#2f8e78"/>
<rect x="919" y="212" width="1" height="22" fill="#000"/>
<rect x="917" y="221" width="5" height="6" fill="#000"/>
<rect x="918" y="222" width="3" height="4" fill="#bf505c"/>
<rect x="925" y="205" width="1" height="25" fill="#000"/>
<rect x="923" y="213" width="5" height="14" fill="#000"/>
<rect x="924" y="214" width="3" height="12" fill="#2f8e78"/>
<rect x="931" y="213" width="1" height="49" fill="#000"/>
<rect x="929" y="213" width="5" height="41" fill="#000"/>
<rect x="930" y="214" width="3" height="39" fill="#bf505c"/>
<rect x="937" y="248" width="1" height="15" fill="#000"/>
<rect x="935" y="249" width="5" height="5" fill="#000"/>
<rect x="936" y="250" width="3" height="3" fill="#2f8e78"/>
<rect x="943" y="242" width="1" height="14" fill="#000"/>
<rect x="941" y="249" width="5" height="6" fill="#000"/>
<rect x="942" y="250" width="3" height="4" fill="#bf505c"/>
<rect x="949" y="239" width="1" height="25" fill="#000"/>
<rect x="947" y="245" width="5" height="10" fill="#000"/>
<rect x="948" y="246" width="3" height="8" fill="#2f8e78"/>
<rect x="955" y="221" width="1" height="32" fill="#000"/>
<rect x="953" y="226" width="5" height="20" fill="#000"/>
<rect x="954" y="227" width="3" height="18" fill="#2f8e78"/>
<rect x="961" y="213" width="1" height="20" fill="#000"/>
<rect x="959" y="221" width="5" height="6" fill="#000"/>
<rect x="960" y="222" width="3" height="4" fill="#2f8e78"/>
<rect x="967" y="216" width="1" height="28" fill="#000"/>
<rect x="965" y="221" width="5" height="11" fill="#000"/>
<rect x="966" y="222" width="3" height="9" fill="#bf505c"/>
<rect x="973" y="206" width="1" height="30" fill="#000"/>
<rect x="971" y="231" width="5" height="1" fill="#000"/>
<rect x="979" y="225" width="1" height="13" fill="#000"/>
<rect x="977" y="231" width="5" height="6" fill="#000"/>
<rect x="978" y="232" width="3" height="4" fill="#bf505c"/>
<rect x="985" y="222" width="1" height="15" fill="#000"/>
<rect x="983" y="227" width="5" height="10" fill="#000"/>
<rect x="984" y="228" width="3" height="8" fill="#2f8e78"/>
<rect x="991" y="210" width="1" height="22" fill="#000"/>
<rect x="989" y="218" width="5" height="10" fill="#000"/>
<rect x="990" y="219" width="3" height="8" fill="#2f8e78"/>
<rect x="997" y="206" width="1" height="24" fill="#000"/>
<rect x="995" y="218" width="5" height="6" fill="#000"/>
<rect x="996" y="219" width="3" height="4" fill="#bf505c"/>
<rect x="1003" y="196" width="1" height="33" fill="#000"/>
<rect x="1001" y="200" width="5" height="24" fill="#000"/>
<rect x="1002" y="201" width="3" height="22" fill="#2f8e78"/>
<rect x="1009" y="185" width="1" height="20" fill="#000"/>
<rect x="1007" y="185" width="5" height="15" fill="#000"/>
<rect x="1008" y="186" width="3" height="13" fill="#2f8e78"/>
<rect x="1015" y="173" width="1" height="19" fill="#000"/>
<rect x="1013" y="180" width="5" height="6" fill="#000"/>
<rect x="1014" y="181" width="3" height="4" fill="#2f8e78"/>
<rect x="1021" y="177" width="1" height="12" fill="#000"/>
<rect x="1019" y="180" width="5" height="1" fill="#000"/>
<rect x="1027" y="179" width="1" height="10" fill="#000"/>
<rect x="1025" y="181" width="5" height="6" fill="#000"/>
<rect x="1026" y="182" width="3" height="4" fill="#bf505c"/>
<rect x="1033" y="173" width="1" height="23" fill="#000"/>
<rect x="1031" y="187" width="5" height="5" fill="#000"/>
<rect x="1032" y="188" width="3" height="3" fill="#bf505c"/>
</g>
<rect x="839" y="172" width="74" height="2" fill="#000" shape-rendering="crispEdges"/>
</svg>
<div style="position:absolute;left:13px;top:6px;width:26px;height:26px;border-radius:50%;background:#a5745f;"></div>
<span class="t" style="left:20.8px;top:9.3px;font-size:17px;line-height:21px;color:#fff;text-shadow:0.3px 0 0 #fff;">T</span>
<div style="position:absolute;left:32px;top:0.7px;width:18px;height:18px;border-radius:50%;background:#e8364c;"></div>
<span class="t" style="left:35.6px;top:2.9px;font-size:11px;line-height:15px;color:#fff;font-weight:bold;transform:scaleX(0.9460);transform-origin:0 0;">11</span>
<svg width="1287" height="40" viewBox="0 0 1287 40"><g class="ic">
<circle cx="69.6" cy="18" r="5.2" stroke-width="1.6"/><path d="M73.5 22 L77.7 26" stroke-width="1.6"/>
<circle cx="170.4" cy="19.4" r="9.1"/><path d="M165.6 19.4H175.2M170.4 14.6V24.2"/>
<rect x="258.5" y="12.5" width="4" height="12.5"/><path d="M260.5 9V12.5M260.5 25V28.5"/><rect x="266.5" y="15.5" width="4" height="7"/><path d="M268.5 12.5V15.5M268.5 22.5V25.5"/>
<path d="M303.2 16.5 L308.3 11.8 L312.8 14.9 L319.8 10.2"/><path d="M303.4 27.4V23.5H307.5V27.4M307.5 23.5V20.4H311.6V27.4M311.6 22.5H315.6M315.6 27.4V17.3H319.7V27.4H303.4" stroke-linejoin="miter"/>
<path d="M409.2 17.2 L413 20.4 L416.8 17.2"/>
<rect x="436.9" y="11.9" width="5.1" height="5.1" rx="1.5"/><rect x="445.9" y="11.9" width="5.1" height="5.1" rx="1.5"/><rect x="436.9" y="20.9" width="5.1" height="5.1" rx="1.5"/><rect x="445.9" y="20.9" width="5.1" height="5.1" rx="1.5"/>
<path d="M498.5 19.6 A8.1 8.1 0 1 0 490.6 27.5"/><path d="M490.4 14.3V19.5H487.2"/><path d="M481.1 13.6 L484.6 9.7M499.8 13.6 L496.1 9.7"/><path d="M492.2 25.4H500.8M496.4 21.4V29.6"/>
<path d="M568.3 14.1 L562.4 19.4 L568.3 24.7Z" stroke-width="1.1"/><path d="M576.7 14.1 L570.8 19.4 L576.7 24.7Z" stroke-width="1.1"/>
<path d="M662.5 12.5 L658.8 16.2 L662.5 20"/><path d="M659 16.2H667 Q671.7 16.2 671.7 21 V24"/>
</g><g class="ic" style="stroke:#c4c4c8">
<path d="M706 12.5 L709.7 16.2 L706 20"/><path d="M709.5 16.2H701.5 Q696.8 16.2 696.8 21 V24"/>
</g><g class="ic">
<rect x="927" y="11.5" width="18" height="16" rx="2.5"/>
<path d="M1032.5 17 L1036.2 20.5 L1040 17"/>
<path d="M1072.3 11.5 A7.2 7.2 0 1 0 1081.6 18.4"/><path d="M1079.7 23.7 L1084.6 28.6"/><path d="M1078.1 8.3 L1073.5 14.5 L1076.6 15.5 L1077 20.4 L1081.5 14.1 L1078.7 13.2 Z" fill="#fff"/>
<path d="M1109 10.2 H1119 L1124 19 L1119 27.8 H1109 L1104 19Z"/><circle cx="1114" cy="19" r="3.8"/>
<path d="M1144 16V13.5Q1144 11.5 1146 11.5H1148.5M1155.5 11.5H1158Q1160 11.5 1160 13.5V16M1160 22V24.5Q1160 26.5 1158 26.5H1155.5M1148.5 26.5H1146Q1144 26.5 1144 24.5V22"/>
<path d="M1181.5 13.5H1184.5L1186 10.8H1193L1194.5 13.5H1197.5Q1199.5 13.5 1199.5 15.5V24.5Q1199.5 26.5 1197.5 26.5H1181.5Q1179.5 26.5 1179.5 24.5V15.5Q1179.5 13.5 1181.5 13.5Z"/><circle cx="1189.5" cy="19.8" r="3.8"/>
</g></svg>
<span class="t" style="left:84.5px;top:10.9px;font-size:13.5px;line-height:17.5px;color:#131722;font-weight:bold;transform:scaleX(0.8942);transform-origin:0 0;">BTCUSD</span>
<div class="sep" style="left:194px;top:9px;width:1px;height:21px;"></div>
<div class="sep" style="left:240px;top:9px;width:1px;height:21px;"></div>
<div class="sep" style="left:287px;top:9px;width:1px;height:21px;"></div>
<div class="sep" style="left:467px;top:9px;width:1px;height:21px;"></div>
<div class="sep" style="left:642px;top:9px;width:1px;height:21px;"></div>
<div class="sep" style="left:1052px;top:9px;width:1px;height:21px;"></div>
<span class="t" style="left:214.0px;top:10.6px;font-size:13.5px;line-height:17.5px;color:#131722;">D</span>
<span class="t" style="left:329.5px;top:10.6px;font-size:13.5px;line-height:17.5px;color:#131722;transform:scaleX(1.0423);transform-origin:0 0;">Indicators</span>
<span class="t" style="left:509.0px;top:10.6px;font-size:13.5px;line-height:17.5px;color:#131722;transform:scaleX(1.0808);transform-origin:0 0;">Alert</span>
<span class="t" style="left:587.5px;top:10.6px;font-size:13.5px;line-height:17.5px;color:#131722;transform:scaleX(0.9518);transform-origin:0 0;">Replay</span>
<span class="t" style="left:960.0px;top:5.5px;font-size:14px;line-height:18px;color:#131722;transform:scaleX(0.9472);transform-origin:0 0;">Unnamed</span>
<span class="t" style="left:979.0px;top:19.0px;font-size:11px;line-height:15px;color:#3a62b8;transform:scaleX(0.8176);transform-origin:0 0;">Save</span>
<div style="position:absolute;left:1213px;top:5px;width:69px;height:28px;border-radius:14px;background:#2a2a2a;"></div>
<span class="t" style="left:1224.5px;top:10.5px;font-size:14px;line-height:18px;color:#fff;font-weight:bold;transform:scaleX(0.9198);transform-origin:0 0;">Publish</span>
<div style="position:absolute;left:71.5px;top:49.5px;width:17px;height:17px;border-radius:50%;background:#d9f4f0;"></div>
<div style="position:absolute;left:75.8px;top:53.8px;width:8.4px;height:8.4px;border-radius:50%;background:#1a9a80;"></div>
<span class="t" style="left:105.3px;top:51.2px;font-size:12.5px;line-height:16.5px;color:#131722;transform:scaleX(1.0203);transform-origin:0 0;">O115,314.12</span>
<span class="t" style="left:185.6px;top:51.2px;font-size:12.5px;line-height:16.5px;color:#131722;transform:scaleX(1.0303);transform-origin:0 0;">H116,802.00</span>
<span class="t" style="left:265.9px;top:51.2px;font-size:12.5px;line-height:16.5px;color:#131722;transform:scaleX(1.0221);transform-origin:0 0;">L114,395.84</span>
<span class="t" style="left:343.5px;top:51.2px;font-size:12.5px;line-height:16.5px;color:#131722;transform:scaleX(1.0218);transform-origin:0 0;">C114,830.90</span>
<span class="t" style="left:422.5px;top:51.2px;font-size:12.5px;line-height:16.5px;color:#131722;transform:scaleX(0.9554);transform-origin:0 0;">−483.23</span>
<span class="t" style="left:472.1px;top:51.2px;font-size:12.5px;line-height:16.5px;color:#131722;transform:scaleX(0.9184);transform-origin:0 0;">(−0.42%)</span>
<span class="t" style="left:65.5px;top:74.8px;font-size:12.5px;line-height:16.5px;color:#131722;transform:scaleX(0.8676);transform-origin:0 0;">EMA</span>
<span class="t" style="left:98.0px;top:74.8px;font-size:12.5px;line-height:16.5px;color:#c8525e;transform:scaleX(1.0222);transform-origin:0 0;">113,417.34</span>
<span class="t" style="left:65.5px;top:98.8px;font-size:12.5px;line-height:16.5px;color:#131722;transform:scaleX(0.8676);transform-origin:0 0;">EMA</span>
<span class="t" style="left:98.0px;top:98.8px;font-size:12.5px;line-height:16.5px;color:#3a3aa8;transform:scaleX(1.0070);transform-origin:0 0;">105,282.79</span>
<span class="t" style="left:65.5px;top:122.8px;font-size:12.5px;line-height:16.5px;color:#131722;transform:scaleX(0.9722);transform-origin:0 0;">Vol · BTC</span>
<span class="t" style="left:126.0px;top:122.8px;font-size:12.5px;line-height:16.5px;color:#d9646e;">3.95 K</span>
<div style="position:absolute;left:64px;top:146px;width:27px;height:18px;border:1px solid #dcdcdc;border-radius:3px;background:#fff;"></div>
<svg width="1287" height="731"><path class="ic" d="M75 157.5 L78.5 154 L82 157.5" stroke-width="1.5"/></svg>
<span class="t" style="left:1170.0px;top:59.3px;font-size:12px;line-height:16px;color:#131722;transform:scaleX(0.9658);transform-origin:0 0;">128,000.00</span>
<span class="t" style="left:1170.0px;top:97.2px;font-size:12px;line-height:16px;color:#131722;transform:scaleX(0.9658);transform-origin:0 0;">124,000.00</span>
<span class="t" style="left:1170.0px;top:172.9px;font-size:12px;line-height:16px;color:#131722;transform:scaleX(0.9803);transform-origin:0 0;">116,000.00</span>
<span class="t" style="left:1170.0px;top:248.6px;font-size:12px;line-height:16px;color:#131722;transform:scaleX(0.9658);transform-origin:0 0;">108,000.00</span>
<span class="t" style="left:1170.0px;top:286.5px;font-size:12px;line-height:16px;color:#131722;transform:scaleX(0.9658);transform-origin:0 0;">104,000.00</span>
<span class="t" style="left:1170.0px;top:362.2px;font-size:12px;line-height:16px;color:#131722;transform:scaleX(0.9741);transform-origin:0 0;">96,000.00</span>
<span class="t" style="left:1170.0px;top:400.0px;font-size:12px;line-height:16px;color:#131722;transform:scaleX(0.9741);transform-origin:0 0;">92,000.00</span>
<span class="t" style="left:1170.0px;top:437.9px;font-size:12px;line-height:16px;color:#131722;transform:scaleX(0.9741);transform-origin:0 0;">88,000.00</span>
<span class="t" style="left:1170.0px;top:475.7px;font-size:12px;line-height:16px;color:#131722;transform:scaleX(0.9741);transform-origin:0 0;">84,000.00</span>
<span class="t" style="left:1170.0px;top:513.6px;font-size:12px;line-height:16px;color:#131722;transform:scaleX(0.9741);transform-origin:0 0;">80,000.00</span>
<span class="t" style="left:1170.0px;top:551.4px;font-size:12px;line-height:16px;color:#131722;transform:scaleX(0.9741);transform-origin:0 0;">76,000.00</span>
<span class="t" style="left:1170.0px;top:589.2px;font-size:12px;line-height:16px;color:#131722;transform:scaleX(0.9741);transform-origin:0 0;">72,000.00</span>
<div style="position:absolute;left:1161px;top:135px;width:73px;height:17px;background:#2962ff;border-radius:2px;"></div>
<span class="t" style="left:1170.0px;top:136.2px;font-size:12px;line-height:16px;color:#fff;font-weight:bold;transform:scaleX(0.9658);transform-origin:0 0;">120,000.00</span>
<div style="position:absolute;left:1161px;top:184px;width:73px;height:48px;background:#ee3547;border-radius:2px;"></div>
<span class="t" style="left:1170.0px;top:184.4px;font-size:12px;line-height:16px;color:#fff;font-weight:bold;transform:scaleX(0.9765);transform-origin:0 0;">114,830.90</span>
<span class="t" style="left:1169.5px;top:198.3px;font-size:12px;line-height:16px;color:#ffc0c6;font-weight:bold;transform:scaleX(0.9576);transform-origin:0 0;">07:47:15</span>
<span class="t" style="left:1170.0px;top:215.6px;font-size:12px;line-height:16px;color:#fff;font-weight:bold;transform:scaleX(0.9765);transform-origin:0 0;">113,417.34</span>
<div style="position:absolute;left:1161px;top:232px;width:73px;height:17px;background:#2962ff;border-radius:2px;"></div>
<span class="t" style="left:1170.0px;top:232.4px;font-size:12px;line-height:16px;color:#fff;font-weight:bold;transform:scaleX(0.9765);transform-origin:0 0;">110,000.00</span>
<div style="position:absolute;left:1161px;top:274px;width:73px;height:17px;background:#2a23e0;border-radius:2px;"></div>
<span class="t" style="left:1170.0px;top:275.0px;font-size:12px;line-height:16px;color:#fff;font-weight:bold;transform:scaleX(0.9658);transform-origin:0 0;">105,282.79</span>
<div style="position:absolute;left:1161px;top:324px;width:73px;height:17px;background:#2962ff;border-radius:2px;"></div>
<span class="t" style="left:1170.0px;top:325.3px;font-size:12px;line-height:16px;color:#fff;font-weight:bold;transform:scaleX(0.9658);transform-origin:0 0;">100,000.00</span>
<div style="position:absolute;left:1161px;top:592px;width:46px;height:17px;background:#eb5057;border-radius:2px;"></div>
<span class="t" style="left:1169.0px;top:593.4px;font-size:12px;line-height:16px;color:#fff;font-weight:bold;transform:scaleX(0.9296);transform-origin:0 0;">3.95 K</span>
<span class="t" style="left:197.2px;top:627.8px;font-size:12px;line-height:16px;color:#131722;">May</span>
<span class="t" style="left:385.3px;top:627.8px;font-size:12px;line-height:16px;color:#131722;">Jun</span>
<span class="t" style="left:568.8px;top:627.8px;font-size:12px;line-height:16px;color:#131722;">Jul</span>
<span class="t" style="left:751.8px;top:627.8px;font-size:12px;line-height:16px;color:#131722;">Aug</span>
<span class="t" style="left:937.8px;top:627.8px;font-size:12px;line-height:16px;color:#131722;">Sep</span>
<span class="t" style="left:1119.2px;top:627.8px;font-size:12px;line-height:16px;color:#131722;">Oct</span>
<div class="sep" style="left:56px;top:650px;width:1182px;height:1px;background:#ececec;"></div>
<span class="t" style="left:70.5px;top:661.2px;font-size:13px;line-height:17px;color:#131722;transform:scaleX(0.9629);transform-origin:0 0;">1D</span>
<span class="t" style="left:97.5px;top:661.2px;font-size:13px;line-height:17px;color:#131722;transform:scaleX(0.9629);transform-origin:0 0;">5D</span>
<span class="t" style="left:126.0px;top:661.2px;font-size:13px;line-height:17px;color:#131722;transform:scaleX(0.9690);transform-origin:0 0;">1M</span>
<span class="t" style="left:155.0px;top:661.2px;font-size:13px;line-height:17px;color:#131722;">3M</span>
<span class="t" style="left:184.5px;top:661.2px;font-size:13px;line-height:17px;color:#131722;">6M</span>
<span class="t" style="left:214.0px;top:661.2px;font-size:13px;line-height:17px;color:#131722;transform:scaleX(0.9616);transform-origin:0 0;">YTD</span>
<span class="t" style="left:250.5px;top:661.2px;font-size:13px;line-height:17px;color:#131722;transform:scaleX(0.9434);transform-origin:0 0;">1Y</span>
<span class="t" style="left:278.0px;top:661.2px;font-size:13px;line-height:17px;color:#131722;transform:scaleX(0.9434);transform-origin:0 0;">5Y</span>
<span class="t" style="left:305.0px;top:661.2px;font-size:13px;line-height:17px;color:#131722;transform:scaleX(1.1769);transform-origin:0 0;">All</span>
<div class="sep" style="left:332px;top:660px;width:1px;height:21px;"></div>
<span class="t" style="left:1144.5px;top:661.2px;font-size:13px;line-height:17px;color:#131722;transform:scaleX(1.0256);transform-origin:0 0;">16:12:44 UTC</span>
<span class="t" style="left:72.5px;top:703.3px;font-size:14px;line-height:18px;color:#131722;transform:scaleX(0.9930);transform-origin:0 0;">Pine Editor</span>
<span class="t" style="left:172.5px;top:703.3px;font-size:14px;line-height:18px;color:#131722;transform:scaleX(1.0118);transform-origin:0 0;">Strategy Tester</span>
<span class="t" style="left:299.5px;top:703.3px;font-size:14px;line-height:18px;color:#131722;transform:scaleX(0.9717);transform-origin:0 0;">Replay Trading</span>
<span class="t" style="left:422.5px;top:703.3px;font-size:14px;line-height:18px;color:#131722;transform:scaleX(0.9695);transform-origin:0 0;">Trading Panel</span>
<div style="position:absolute;left:9px;top:50px;width:34px;height:34px;border-radius:7px;background:#ececec;"></div>
<div class="sep" style="left:8px;top:358px;width:36px;height:1px;"></div>
<div class="sep" style="left:8px;top:447px;width:36px;height:1px;"></div>
<div class="sep" style="left:8px;top:611px;width:36px;height:1px;"></div>
<div class="sep" style="left:1248px;top:632px;width:33px;height:1px;"></div>
<svg width="1287" height="731" viewBox="0 0 1287 731"><g class="ic">
<path d="M19.3 59.4 V72.2 L23.4 69.9 L26.4 75.3 L29.6 73.9 L26.7 68.1 L30.1 65.9 Z" stroke-width="1.3" stroke-linejoin="miter"/>
<path d="M18.8 112 L32.8 98"/><circle cx="17.3" cy="113.5" r="2.1"/><circle cx="34.3" cy="96.5" r="2.1"/>
<path d="M15 133.5H37M15 139.5H34M15 145.5H37M17.5 151.5H37"/><circle cx="36.3" cy="139.5" r="2.1" fill="#fff"/><circle cx="15.3" cy="151.5" r="2.1" fill="#fff"/>
<path d="M17.3 189.2 L20.4 172 L24.7 179.3 Z M24.7 179.3 L32.5 173 L35.4 186.4 Z"/>
<circle cx="20.4" cy="172" r="2" fill="#fff"/>
<circle cx="32.5" cy="173" r="2" fill="#fff"/>
<circle cx="24.7" cy="179.3" r="2" fill="#fff"/>
<circle cx="35.4" cy="186.4" r="2" fill="#fff"/>
<circle cx="17.3" cy="189.2" r="2" fill="#fff"/>
<path d="M18 210.9H36M18 221.5H33M18 227.5H36"/><path d="M21 218.5 L34.5 213.5" stroke-dasharray="1.2 2"/>
<circle cx="16.3" cy="210.9" r="2" fill="#fff"/>
<circle cx="16.3" cy="221.5" r="2" fill="#fff"/>
<circle cx="34.6" cy="221.5" r="2" fill="#fff"/>
<circle cx="16.3" cy="227.5" r="2" fill="#fff"/>
<path d="M14.6 265.3 L20.8 256.3 Q23 254.3 25.8 255 Q30.3 257.5 29.1 261.3 Q27.8 264.8 24 265.3 Z"/><path d="M30.2 249.4 Q27.4 251.6 29.5 254 Q31.8 256.6 34.2 254.4 L39.3 249.4"/>
<path d="M19 289.5V286.7H34V289.5M26.5 286.7V303.5M23.8 303.7H29.2"/>
<circle cx="26" cy="332.6" r="10.4"/><path d="M22.9 335.3 Q26 339.6 29.1 335.3"/><circle cx="23.4" cy="331.4" r="0.8" fill="#131722"/><circle cx="28.5" cy="331.4" r="0.8" fill="#131722"/>
<g transform="translate(25.95 383.9) rotate(-45)"><rect x="-12.85" y="-3.65" width="25.7" height="7.3" rx="1"/><path d="M-8.6 -3.65V-1.6M-4.3 -3.65V-0.6M0 -3.65V-1.6M4.3 -3.65V-0.6M8.6 -3.65V-1.6" stroke-width="1.1"/></g>
<circle cx="24.5" cy="420.5" r="8.2"/><path d="M21.1 420.5H27.9M24.5 417.1V423.9M30.3 426.4 L33.9 429.9"/>
<path d="M18.5 481.5V470.8 A7.55 7.55 0 0 1 33.6 470.8 V481.5 H28.5 V470.9 A2.5 2.5 0 0 0 23.5 470.9 V481.5Z M18.5 477.4H23.5M28.5 477.4H33.6" stroke-linejoin="miter"/>
<path d="M15.3 516.1 V512.4 L26.2 501.6 Q28.2 500.3 30 502.2 Q31.6 504.2 30.2 506 L19.4 516.1 Z M16.6 511.2 L20.6 515.2 M25.6 502.3 L29.6 506.3" stroke-width="1.15"/>
<rect x="27.5" y="515.5" width="8.3" height="6" rx="1.3" fill="#fff"/><path d="M29.5 515.5V512.5 A2.05 2.05 0 0 1 33.6 512.5"/><path d="M31.5 518V519.4" stroke-width="1.3"/>
<rect x="18.4" y="547.4" width="15.3" height="10.8" rx="2"/><path d="M22.8 547.4V544 A3.4 3.4 0 0 1 29.4 543.2"/><path d="M25.9 551.5V554.3" stroke-width="1.7"/>
<path d="M15.8 583 Q25.3 570.5 34.8 583 Q25.3 595.5 15.8 583Z"/><circle cx="25.2" cy="583" r="3.2"/>
<path d="M27 596.5 Q28 593.5 31 593.3 Q32.5 594 31.8 595.3 Q31 596.6 27 596.5Z M32.3 591.3 Q32.8 593.2 34 592.5 L36 591" stroke-width="1"/>
<path d="M17.2 631.4H34.7M22.4 631.4V629.8Q22.4 628.4 23.8 628.4H28.4Q29.8 628.4 29.8 629.8V631.4M19.4 631.4 L20.6 645.9 Q20.8 647.5 22.4 647.5 H29.8 Q31.4 647.5 31.6 645.9 L32.8 631.4"/>
<path d="M347.5 668.3V664.4Q347.5 662.4 349.5 662.4H362.5Q364.5 662.4 364.5 664.4V675.4Q364.5 677.4 362.5 677.4H356.3M347.5 666.4H364.5M352.4 660.2V663.8M359.5 660.2V663.8M346.2 674.3H353.6M350.3 671.1 L353.7 674.3 L350.3 677.6"/>
<path d="M1195.9 630.3H1203.1L1206.8 636.4L1203.1 642.5H1195.9L1192.3 636.4Z"/><circle cx="1199.5" cy="636.4" r="2"/>
<path d="M1175 714 L1183.6 707.3 L1192.2 714"/>
<path d="M1211.3 709.5V706.8Q1211.3 704.3 1213.8 704.3H1224.3Q1226.8 704.3 1226.8 706.8V709.5M1226.8 714.5V717Q1226.8 719.4 1224.3 719.4H1213.8Q1211.3 719.4 1211.3 717V714.5"/>
<path d="M1255.6 55.6H1274.6V77.2 L1265 73.2 L1255.6 77.2Z" stroke-linejoin="miter"/><path d="M1259.3 60.5H1270.8M1259.3 64.5H1270.8M1259.3 68.5H1270.8"/>
<circle cx="1265" cy="112" r="10.5"/><path d="M1265.5 106.3V113.4H1260.2"/><path d="M1252.3 104.7 L1258.2 99.3M1277.8 104.7 L1272 99.3"/>
<path d="M1264.7 148.5 L1275.7 154.9 L1264.7 161.3 L1253.7 154.9Z"/><path d="M1253.7 160.7 L1264.7 167 L1275.7 160.7"/>
<path d="M1255.7 193.7H1270Q1272.3 193.7 1272.3 196V206.4Q1272.3 208.7 1270 208.7H1258.2L1253.6 212.8V196Q1253.6 193.7 1255.7 193.7Z"/><path d="M1272.3 201H1274.5Q1276.8 201 1276.8 203.3V216.6 L1272.8 212.8H1265Q1262.8 212.6 1262.3 210.5"/>
<circle cx="1264.9" cy="511.9" r="13.7"/><circle cx="1264.9" cy="511.9" r="7.7"/><circle cx="1264.9" cy="511.9" r="2" fill="#131722"/><path d="M1264.9 511.9 L1274.5 502.3"/>
<rect x="1253.5" y="548.5" width="23.1" height="20.9" rx="3"/><path d="M1253.5 555.9H1276.6"/><rect x="1257.4" y="546.2" width="3" height="5" rx="1" fill="#fff"/><rect x="1269.6" y="546.2" width="3" height="5" rx="1" fill="#fff"/>
<path d="M1254 649.7 A21.3 21.3 0 0 1 1275.8 671M1254 656.2 A14.8 14.8 0 0 1 1269 671M1254 662.8 A8.2 8.2 0 0 1 1262.4 671"/><circle cx="1256" cy="669" r="1.7"/>
<path d="M1270.3 694.7 A13.6 13.6 0 0 0 1251.7 710.4M1277.8 702.9 A13.6 13.6 0 0 1 1256.8 718.1"/>
<path d="M1261.3 703.7 Q1261.5 700.5 1264.9 700.5 Q1268.5 700.6 1268.4 703.8 Q1268.3 705.9 1264.9 707.4 V709.6"/><circle cx="1264.9" cy="713" r="1.2"/>
<path d="M1276.1 692.4 L1277.3 695.7 L1280.6 696.9 L1277.3 698.1 L1276.1 701.4 L1274.9 698.1 L1271.6 696.9 L1274.9 695.7Z" stroke-width="1"/><path d="M1253.3 711.4 L1254.3 713.9 L1256.8 714.9 L1254.3 715.9 L1253.3 718.4 L1252.3 715.9 L1249.8 714.9 L1252.3 713.9Z" stroke-width="1"/>
</g>
<circle cx="1265" cy="603.8" r="16.9" fill="#2a2a2a"/>
<rect x="1256.0" y="595.0" width="4" height="4" rx="0.8" fill="#fff"/>
<rect x="1263.1" y="595.0" width="4" height="4" rx="0.8" fill="#fff"/>
<rect x="1270.2" y="595.0" width="4" height="4" rx="0.8" fill="#fff"/>
<rect x="1256.0" y="602.1" width="4" height="4" rx="0.8" fill="#fff"/>
<rect x="1263.1" y="602.1" width="4" height="4" rx="0.8" fill="#fff"/>
<rect x="1270.2" y="602.1" width="4" height="4" rx="0.8" fill="#fff"/>
<rect x="1256.0" y="609.2" width="4" height="4" rx="0.8" fill="#fff"/>
<rect x="1263.1" y="609.2" width="4" height="4" rx="0.8" fill="#fff"/>
<rect x="1270.2" y="609.2" width="4" height="4" rx="0.8" fill="#fff"/>
<g stroke="#fff" stroke-width="4" stroke-linejoin="round" fill="#fff"><path d="M67.9 593.4H80.4V607.4H73.6V598.3H67.9Z"/><circle cx="84.9" cy="595.9" r="2.4"/><path d="M89.2 593.4H97.8L92.6 607.4H84.6Z"/></g>
<g fill="#131722"><path d="M67.9 593.4H80.4V607.4H73.6V598.3H67.9Z"/><circle cx="84.9" cy="595.9" r="2.4"/><path d="M89.2 593.4H97.8L92.6 607.4H84.6Z"/></g>
<text x="105.2" y="607.4" font-family="Liberation Sans, sans-serif" font-weight="bold" font-size="19.6" fill="#fff" stroke="#fff" stroke-width="4.4" stroke-linejoin="round" textLength="120.8" lengthAdjust="spacingAndGlyphs">TradingView</text>
<text x="105.2" y="607.4" font-family="Liberation Sans, sans-serif" font-weight="bold" font-size="19.6" fill="#131722" stroke="#131722" stroke-width="0.5" textLength="120.8" lengthAdjust="spacingAndGlyphs">TradingView</text>
<circle cx="1045.8" cy="608.8" r="10.3" fill="#d2414d"/><circle cx="1045.8" cy="608.8" r="9" fill="#fff"/>
<clipPath id="fc1045"><circle cx="1045.8" cy="608.8" r="7.8"/></clipPath>
<g clip-path="url(#fc1045)">
<rect x="1037.8" y="600.8" width="16" height="16" fill="#fff"/>
<rect x="1037.8" y="603.4" width="16" height="2.3" fill="#e0606a"/>
<rect x="1037.8" y="608.0" width="16" height="2.3" fill="#e0606a"/>
<rect x="1037.8" y="612.6" width="16" height="2.3" fill="#e0606a"/>
<rect x="1037.8" y="617.2" width="16" height="2.3" fill="#e0606a"/>
</g>
<circle cx="1038.7" cy="608.8" r="10.3" fill="#d2414d"/><circle cx="1038.7" cy="608.8" r="9" fill="#fff"/>
<clipPath id="fc1038"><circle cx="1038.7" cy="608.8" r="7.8"/></clipPath>
<g clip-path="url(#fc1038)">
<rect x="1030.7" y="600.8" width="16" height="16" fill="#fff"/>
<rect x="1030.7" y="603.4" width="16" height="2.3" fill="#e0606a"/>
<rect x="1030.7" y="608.0" width="16" height="2.3" fill="#e0606a"/>
<rect x="1030.7" y="612.6" width="16" height="2.3" fill="#e0606a"/>
<rect x="1030.7" y="617.2" width="16" height="2.3" fill="#e0606a"/>
<rect x="1030.7" y="600.8" width="8.6" height="9" fill="#3c78d8"/>
<rect x="1032.1" y="602.2" width="1" height="1" fill="#cfe0ff"/>
<rect x="1034.5" y="602.2" width="1" height="1" fill="#cfe0ff"/>
<rect x="1036.9" y="602.2" width="1" height="1" fill="#cfe0ff"/>
<rect x="1032.1" y="604.6" width="1" height="1" fill="#cfe0ff"/>
<rect x="1034.5" y="604.6" width="1" height="1" fill="#cfe0ff"/>
<rect x="1036.9" y="604.6" width="1" height="1" fill="#cfe0ff"/>
<rect x="1032.1" y="607.0" width="1" height="1" fill="#cfe0ff"/>
<rect x="1034.5" y="607.0" width="1" height="1" fill="#cfe0ff"/>
<rect x="1036.9" y="607.0" width="1" height="1" fill="#cfe0ff"/>
</g>
</svg>
<div style="position:absolute;left:0;top:725px;width:6px;height:6px;background:radial-gradient(circle at 100% 0,rgba(74,8,56,0) 5px,#4a0838 6.5px);"></div>
<div style="position:absolute;left:1281px;top:725px;width:6px;height:6px;background:radial-gradient(circle at 0 0,rgba(74,8,56,0) 5px,#8a2a78 6.5px);"></div>
</body></html>
